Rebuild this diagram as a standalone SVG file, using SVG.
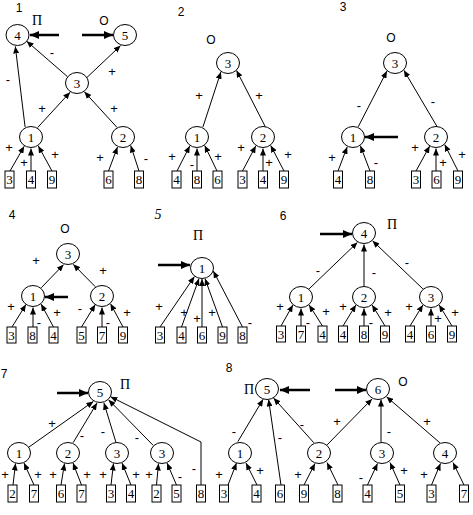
<svg xmlns="http://www.w3.org/2000/svg" width="473" height="515" viewBox="0 0 473 515">
<style>
.n ellipse{fill:#fff;stroke:#000;stroke-width:1}
.b rect{fill:#fff;stroke:#000;stroke-width:1}
.n text,.b text{font-family:"Liberation Serif",serif;font-size:13px;text-anchor:middle;fill:#000}
.e{stroke:#000;stroke-width:1;fill:none;marker-end:url(#a)}
.t{stroke:#000;stroke-width:2.5;fill:none;marker-end:url(#ta)}
.l{font-family:"Liberation Sans",sans-serif;font-size:13px;text-anchor:middle;fill:#000}
.h{font-family:"Liberation Sans",sans-serif;font-size:12px;text-anchor:middle;fill:#000}
.p{font-family:"Liberation Serif",serif;font-size:14px;text-anchor:middle;fill:#000}
</style>
<defs>
<marker id="a" markerUnits="userSpaceOnUse" markerWidth="7" markerHeight="6" refX="7" refY="3" orient="auto"><path d="M0,0 L7,3 L0,6 z" fill="#000"/></marker>
<marker id="ta" markerUnits="userSpaceOnUse" markerWidth="9" markerHeight="8" refX="9" refY="4" orient="auto"><path d="M0,0 L9,4 L0,8 z" fill="#000"/></marker>
</defs>
<rect width="473" height="515" fill="#fff"/>

<!-- ============ Panel 1 ============ -->
<g id="panel1-labels">
<text class="h" x="19" y="12">1</text>
<text class="p" x="37" y="25">П</text>
<text class="h" x="104" y="25">О</text>
</g>
<g id="connectors1">
<line class="t" x1="59" y1="35" x2="30" y2="35"/>
<line class="t" x1="82" y1="35" x2="113" y2="35"/>
<line class="e" x1="10" y1="171" x2="24.2" y2="146.3"/>
<line class="e" x1="31" y1="171" x2="31" y2="148.5"/>
<line class="e" x1="52" y1="171" x2="38.3" y2="145.9"/>
<line class="e" x1="108.5" y1="171" x2="117.5" y2="147.1"/>
<line class="e" x1="139" y1="171" x2="130.7" y2="145.5"/>
<line class="e" x1="37.6" y1="127.6" x2="70.1" y2="92.2"/>
<line class="e" x1="117.1" y1="127.5" x2="84.4" y2="91.8"/>
<line class="e" x1="25.1" y1="127.1" x2="15.3" y2="46.4"/>
<line class="e" x1="67.5" y1="76.7" x2="26.7" y2="41.2"/>
<line class="e" x1="87" y1="77.4" x2="120.6" y2="45.6"/>
<text class="l" x="9" y="152">+</text>
<text class="l" x="24" y="167">+</text>
<text class="l" x="55" y="159">+</text>
<text class="l" x="100" y="162">+</text>
<text class="l" x="146" y="163">-</text>
<text class="l" x="42" y="113">+</text>
<text class="l" x="114" y="113">+</text>
<text class="l" x="8" y="84">-</text>
<text class="l" x="52" y="57">-</text>
<text class="l" x="112" y="76">+</text>
</g>
<g id="p1-n4" class="n"><ellipse cx="17.5" cy="35" rx="11.5" ry="10.5"/><text x="17.5" y="39.5">4</text></g>
<g id="p1-n5" class="n"><ellipse cx="125" cy="35" rx="11.5" ry="10.5"/><text x="125" y="39.5">5</text></g>
<g id="p1-n3" class="n"><ellipse cx="77" cy="83" rx="11.5" ry="10.5"/><text x="77" y="87.5">3</text></g>
<g id="p1-n1" class="n"><ellipse cx="31" cy="137" rx="11.5" ry="10.5"/><text x="31" y="141.5">1</text></g>
<g id="p1-n2" class="n"><ellipse cx="123" cy="137" rx="11.5" ry="10.5"/><text x="123" y="141.5">2</text></g>
<g id="p1-b3" class="b"><rect x="5" y="171" width="9" height="17"/><text x="9.5" y="184">3</text></g>
<g id="p1-b4" class="b"><rect x="26.5" y="171" width="9" height="17"/><text x="31" y="184">4</text></g>
<g id="p1-b9" class="b"><rect x="47.5" y="171" width="9" height="17"/><text x="52" y="184">9</text></g>
<g id="p1-b6" class="b"><rect x="104" y="171" width="9" height="17"/><text x="108.5" y="184">6</text></g>
<g id="p1-b8" class="b"><rect x="134.5" y="171" width="9" height="17"/><text x="139" y="184">8</text></g>

<!-- ============ Panel 2 ============ -->
<g id="panel2-labels">
<text class="h" x="181" y="16">2</text>
<text class="h" x="211" y="44">О</text>
</g>
<g id="connectors2">
<line class="e" x1="177" y1="171" x2="189.8" y2="145.9"/>
<line class="e" x1="197" y1="171" x2="197" y2="148.5"/>
<line class="e" x1="217" y1="171" x2="204.7" y2="145.5"/>
<line class="e" x1="242.5" y1="171" x2="255.8" y2="145.9"/>
<line class="e" x1="263" y1="171" x2="263" y2="148.5"/>
<line class="e" x1="284" y1="171" x2="270.7" y2="145.5"/>
<line class="e" x1="202.9" y1="127.1" x2="220.9" y2="71.9"/>
<line class="e" x1="265.3" y1="126.7" x2="236.5" y2="70.4"/>
<text class="l" x="172" y="161">+</text>
<text class="l" x="192" y="169">-</text>
<text class="l" x="218" y="161">+</text>
<text class="l" x="241" y="152">+</text>
<text class="l" x="269" y="167">+</text>
<text class="l" x="288" y="159">+</text>
<text class="l" x="199" y="100">+</text>
<text class="l" x="259" y="100">+</text>
</g>
<g id="p2-n3" class="n"><ellipse cx="228" cy="63" rx="11.5" ry="10.5"/><text x="228" y="67.5">3</text></g>
<g id="p2-n1" class="n"><ellipse cx="197" cy="137" rx="11.5" ry="10.5"/><text x="197" y="141.5">1</text></g>
<g id="p2-n2" class="n"><ellipse cx="263" cy="137" rx="11.5" ry="10.5"/><text x="263" y="141.5">2</text></g>
<g id="p2-b4a" class="b"><rect x="172" y="171" width="9" height="17"/><text x="176.5" y="184">4</text></g>
<g id="p2-b8" class="b"><rect x="192.5" y="171" width="9" height="17"/><text x="197" y="184">8</text></g>
<g id="p2-b6" class="b"><rect x="213" y="171" width="9" height="17"/><text x="217.5" y="184">6</text></g>
<g id="p2-b3" class="b"><rect x="238" y="171" width="9" height="17"/><text x="242.5" y="184">3</text></g>
<g id="p2-b4b" class="b"><rect x="258.5" y="171" width="9" height="17"/><text x="263" y="184">4</text></g>
<g id="p2-b9" class="b"><rect x="279.5" y="171" width="9" height="17"/><text x="284" y="184">9</text></g>

<!-- ============ Panel 3 ============ -->
<g id="panel3-labels">
<text class="h" x="343" y="11">3</text>
<text class="h" x="391" y="42">О</text>
</g>
<g id="connectors3">
<line class="t" x1="398" y1="137" x2="365" y2="137"/>
<line class="e" x1="338" y1="171" x2="347.2" y2="146.9"/>
<line class="e" x1="370" y1="171" x2="360.4" y2="145.8"/>
<line class="e" x1="416" y1="171" x2="429.7" y2="146.1"/>
<line class="e" x1="436" y1="171" x2="436" y2="148.5"/>
<line class="e" x1="458" y1="171" x2="444.7" y2="144.5"/>
<line class="e" x1="358.2" y1="126.8" x2="386.9" y2="71.1"/>
<line class="e" x1="437" y1="126.5" x2="403.9" y2="70.3"/>
<text class="l" x="332" y="162">+</text>
<text class="l" x="376" y="167">-</text>
<text class="l" x="415" y="152">+</text>
<text class="l" x="443" y="167">+</text>
<text class="l" x="462" y="159">+</text>
<text class="l" x="359" y="110">-</text>
<text class="l" x="433" y="106">-</text>
</g>
<g id="p3-n3" class="n"><ellipse cx="395" cy="63" rx="11.5" ry="10.5"/><text x="395" y="67.5">3</text></g>
<g id="p3-n1" class="n"><ellipse cx="353" cy="137" rx="11.5" ry="10.5"/><text x="353" y="141.5">1</text></g>
<g id="p3-n2" class="n"><ellipse cx="436" cy="137" rx="11.5" ry="10.5"/><text x="436" y="141.5">2</text></g>
<g id="p3-b4" class="b"><rect x="333.5" y="171" width="9" height="17"/><text x="338" y="184">4</text></g>
<g id="p3-b8" class="b"><rect x="365.5" y="171" width="9" height="17"/><text x="370" y="184">8</text></g>
<g id="p3-b3" class="b"><rect x="411.5" y="171" width="9" height="17"/><text x="416" y="184">3</text></g>
<g id="p3-b6" class="b"><rect x="432" y="171" width="9" height="17"/><text x="436.5" y="184">6</text></g>
<g id="p3-b9" class="b"><rect x="453.5" y="171" width="9" height="17"/><text x="458" y="184">9</text></g>

<!-- ============ Panel 4 ============ -->
<g id="panel4-labels">
<text class="h" x="12" y="219">4</text>
<text class="h" x="65" y="233">О</text>
</g>
<g id="connectors4">
<line class="t" x1="68" y1="297" x2="45" y2="297"/>
<line class="e" x1="12" y1="327" x2="25.9" y2="304.6"/>
<line class="e" x1="33" y1="327" x2="33" y2="307.5"/>
<line class="e" x1="53.5" y1="327" x2="41.1" y2="304.1"/>
<line class="e" x1="81.5" y1="327" x2="95.3" y2="304.5"/>
<line class="e" x1="102" y1="327" x2="102" y2="307.5"/>
<line class="e" x1="123" y1="327" x2="110.5" y2="303.7"/>
<line class="e" x1="41.2" y1="287.8" x2="63.6" y2="264.6"/>
<line class="e" x1="95.3" y1="286.7" x2="73.2" y2="264.3"/>
<text class="l" x="36" y="265">+</text>
<text class="l" x="103" y="275">+</text>
<text class="l" x="11" y="311">+</text>
<text class="l" x="39" y="327">-</text>
<text class="l" x="57" y="317">+</text>
<text class="l" x="80" y="313">-</text>
<text class="l" x="108" y="327">-</text>
<text class="l" x="127" y="317">+</text>
</g>
<g id="p4-n3" class="n"><ellipse cx="68" cy="254" rx="11.5" ry="10.5"/><text x="68" y="258.5">3</text></g>
<g id="p4-n1" class="n"><ellipse cx="33" cy="296" rx="11.5" ry="10.5"/><text x="33" y="300.5">1</text></g>
<g id="p4-n2" class="n"><ellipse cx="102" cy="296" rx="11.5" ry="10.5"/><text x="102" y="300.5">2</text></g>
<g id="p4-b3" class="b"><rect x="7" y="327" width="9" height="16"/><text x="11.5" y="339.5">3</text></g>
<g id="p4-b8" class="b"><rect x="28" y="327" width="9" height="16"/><text x="32.5" y="339.5">8</text></g>
<g id="p4-b4" class="b"><rect x="49" y="327" width="9" height="16"/><text x="53.5" y="339.5">4</text></g>
<g id="p4-b5" class="b"><rect x="77" y="327" width="9" height="16"/><text x="81.5" y="339.5">5</text></g>
<g id="p4-b7" class="b"><rect x="97.5" y="327" width="9" height="16"/><text x="102" y="339.5">7</text></g>
<g id="p4-b9" class="b"><rect x="118.5" y="327" width="9" height="16"/><text x="123" y="339.5">9</text></g>

<!-- ============ Panel 5 ============ -->
<g id="panel5-labels">
<text class="p" x="158" y="219" font-style="italic">5</text>
<text class="p" x="198" y="240">П</text>
</g>
<g id="connectors5">
<line class="t" x1="158" y1="265" x2="190" y2="265"/>
<line class="e" x1="160" y1="327" x2="194.4" y2="276.6"/>
<line class="e" x1="181.5" y1="327" x2="199" y2="278.6"/>
<line class="e" x1="202" y1="327" x2="202" y2="279"/>
<line class="e" x1="222.5" y1="327" x2="205" y2="278.6"/>
<line class="e" x1="242.5" y1="327" x2="213.3" y2="271"/>
<text class="l" x="159" y="311">+</text>
<text class="l" x="184" y="317">+</text>
<text class="l" x="197" y="323">+</text>
<text class="l" x="212" y="317">+</text>
<text class="l" x="250" y="327">-</text>
</g>
<g id="p5-n1" class="n"><ellipse cx="202" cy="268" rx="11.5" ry="10.5"/><text x="202" y="272.5">1</text></g>
<g id="p5-b3" class="b"><rect x="155.5" y="327" width="9" height="16"/><text x="160" y="339.5">3</text></g>
<g id="p5-b4" class="b"><rect x="177" y="327" width="9" height="16"/><text x="181.5" y="339.5">4</text></g>
<g id="p5-b6" class="b"><rect x="197.5" y="327" width="9" height="16"/><text x="202" y="339.5">6</text></g>
<g id="p5-b9" class="b"><rect x="218" y="327" width="9" height="16"/><text x="222.5" y="339.5">9</text></g>
<g id="p5-b8" class="b"><rect x="238" y="327" width="9" height="16"/><text x="242.5" y="339.5">8</text></g>

<!-- ============ Panel 6 ============ -->
<g id="panel6-labels">
<text class="h" x="283" y="220">6</text>
<text class="p" x="392" y="229">П</text>
</g>
<g id="connectors6">
<line class="t" x1="320" y1="234" x2="352" y2="234"/>
<line class="e" x1="309.1" y1="288.9" x2="357.4" y2="242.4"/>
<line class="e" x1="364" y1="286" x2="364" y2="244.5"/>
<line class="e" x1="422.9" y1="288.9" x2="372.5" y2="240.7"/>
<line class="e" x1="281" y1="326" x2="292.9" y2="304.9"/>
<line class="e" x1="301" y1="326" x2="301" y2="308.5"/>
<line class="e" x1="322.5" y1="326" x2="309.1" y2="304.9"/>
<line class="e" x1="343" y1="326" x2="355.9" y2="304.9"/>
<line class="e" x1="364" y1="326" x2="364" y2="308.5"/>
<line class="e" x1="385" y1="326" x2="372.1" y2="304.9"/>
<line class="e" x1="410" y1="326" x2="422.9" y2="304.9"/>
<line class="e" x1="431" y1="326" x2="431" y2="308.5"/>
<line class="e" x1="452" y1="326" x2="439.1" y2="304.9"/>
<text class="l" x="318" y="275">-</text>
<text class="l" x="374" y="277">-</text>
<text class="l" x="407" y="267">-</text>
<text class="l" x="280" y="311">+</text>
<text class="l" x="308" y="327">-</text>
<text class="l" x="326" y="316">+</text>
<text class="l" x="343" y="311">+</text>
<text class="l" x="371" y="327">-</text>
<text class="l" x="388" y="317">+</text>
<text class="l" x="409" y="311">+</text>
<text class="l" x="438" y="323">+</text>
<text class="l" x="455" y="317">+</text>
</g>
<g id="p6-n4" class="n"><ellipse cx="364" cy="233" rx="11.5" ry="10.5"/><text x="364" y="237.5">4</text></g>
<g id="p6-n1" class="n"><ellipse cx="301" cy="297" rx="11.5" ry="10.5"/><text x="301" y="301.5">1</text></g>
<g id="p6-n2" class="n"><ellipse cx="364" cy="297" rx="11.5" ry="10.5"/><text x="364" y="301.5">2</text></g>
<g id="p6-n3" class="n"><ellipse cx="431" cy="297" rx="11.5" ry="10.5"/><text x="431" y="301.5">3</text></g>
<g id="p6-b3" class="b"><rect x="276.5" y="326" width="9" height="16"/><text x="281" y="338.5">3</text></g>
<g id="p6-b7" class="b"><rect x="296.5" y="326" width="9" height="16"/><text x="301" y="338.5">7</text></g>
<g id="p6-b4a" class="b"><rect x="318" y="326" width="9" height="16"/><text x="322.5" y="338.5">4</text></g>
<g id="p6-b4b" class="b"><rect x="338.5" y="326" width="9" height="16"/><text x="343" y="338.5">4</text></g>
<g id="p6-b8" class="b"><rect x="359.5" y="326" width="9" height="16"/><text x="364" y="338.5">8</text></g>
<g id="p6-b9a" class="b"><rect x="380.5" y="326" width="9" height="16"/><text x="385" y="338.5">9</text></g>
<g id="p6-b4c" class="b"><rect x="405.5" y="326" width="9" height="16"/><text x="410" y="338.5">4</text></g>
<g id="p6-b6" class="b"><rect x="426.5" y="326" width="9" height="16"/><text x="431" y="338.5">6</text></g>
<g id="p6-b9b" class="b"><rect x="447.5" y="326" width="9" height="16"/><text x="452" y="338.5">9</text></g>

<!-- ============ Panel 7 ============ -->
<g id="panel7-labels">
<text class="h" x="4" y="378">7</text>
<text class="p" x="125" y="389">П</text>
</g>
<g id="connectors7">
<line class="t" x1="57" y1="393" x2="88" y2="393"/>
<line class="e" x1="28.9" y1="447.1" x2="93.4" y2="401.4"/>
<line class="e" x1="73.1" y1="442.7" x2="97" y2="403"/>
<line class="e" x1="116" y1="442.5" x2="103.9" y2="402.8"/>
<line class="e" x1="153.3" y1="445.5" x2="108.5" y2="399.7"/>
<polyline class="e" points="201,485 201,442 110.5,396.7"/>
<line class="e" x1="13" y1="485" x2="15.5" y2="463.5"/>
<line class="e" x1="34" y1="485" x2="24" y2="463"/>
<line class="e" x1="61" y1="485" x2="64.5" y2="463.5"/>
<line class="e" x1="81.5" y1="485" x2="73" y2="463"/>
<line class="e" x1="111" y1="485" x2="113.5" y2="463.5"/>
<line class="e" x1="131" y1="485" x2="122" y2="463"/>
<line class="e" x1="156.5" y1="485" x2="158.5" y2="463.5"/>
<line class="e" x1="176.5" y1="485" x2="167" y2="463"/>
<text class="l" x="52" y="428">+</text>
<text class="l" x="82" y="440">-</text>
<text class="l" x="103" y="436">-</text>
<text class="l" x="137" y="442">-</text>
<text class="l" x="194" y="473">-</text>
<text class="l" x="5" y="479">+</text>
<text class="l" x="38" y="479">+</text>
<text class="l" x="53" y="479">+</text>
<text class="l" x="87" y="479">+</text>
<text class="l" x="103" y="479">+</text>
<text class="l" x="136" y="479">+</text>
<text class="l" x="149" y="479">+</text>
<text class="l" x="180" y="481">-</text>
</g>
<g id="p7-n5" class="n"><ellipse cx="100" cy="392" rx="11.5" ry="10.5"/><text x="100" y="396.5">5</text></g>
<g id="p7-n1" class="n"><ellipse cx="19" cy="453" rx="11.5" ry="10.5"/><text x="19" y="457.5">1</text></g>
<g id="p7-n2" class="n"><ellipse cx="68" cy="453" rx="11.5" ry="10.5"/><text x="68" y="457.5">2</text></g>
<g id="p7-n3a" class="n"><ellipse cx="117" cy="453" rx="11.5" ry="10.5"/><text x="117" y="457.5">3</text></g>
<g id="p7-n3b" class="n"><ellipse cx="162" cy="453" rx="11.5" ry="10.5"/><text x="162" y="457.5">3</text></g>
<g id="p7-b2a" class="b"><rect x="8" y="485" width="9" height="17"/><text x="12.5" y="498">2</text></g>
<g id="p7-b7a" class="b"><rect x="29.5" y="485" width="9" height="17"/><text x="34" y="498">7</text></g>
<g id="p7-b6" class="b"><rect x="56.5" y="485" width="9" height="17"/><text x="61" y="498">6</text></g>
<g id="p7-b7b" class="b"><rect x="77" y="485" width="9" height="17"/><text x="81.5" y="498">7</text></g>
<g id="p7-b3" class="b"><rect x="106.5" y="485" width="9" height="17"/><text x="111" y="498">3</text></g>
<g id="p7-b4" class="b"><rect x="126.5" y="485" width="9" height="17"/><text x="131" y="498">4</text></g>
<g id="p7-b2b" class="b"><rect x="152" y="485" width="9" height="17"/><text x="156.5" y="498">2</text></g>
<g id="p7-b5" class="b"><rect x="172" y="485" width="9" height="17"/><text x="176.5" y="498">5</text></g>
<g id="p7-b8" class="b"><rect x="196.5" y="485" width="9" height="17"/><text x="201" y="498">8</text></g>

<!-- ============ Panel 8 ============ -->
<g id="panel8-labels">
<text class="h" x="229" y="372">8</text>
<text class="p" x="249" y="394">П</text>
<text class="h" x="403" y="386">О</text>
</g>
<g id="connectors8">
<line class="t" x1="310" y1="390" x2="280" y2="390"/>
<line class="t" x1="335" y1="390" x2="366" y2="390"/>
<line class="e" x1="237.8" y1="441.7" x2="263.1" y2="399.3"/>
<line class="e" x1="281" y1="485" x2="268.6" y2="399.5"/>
<line class="e" x1="313.9" y1="442.8" x2="273.6" y2="398.1"/>
<line class="e" x1="327.1" y1="444.9" x2="372.1" y2="398.9"/>
<line class="e" x1="381" y1="442.5" x2="381" y2="399.5"/>
<line class="e" x1="439.9" y1="442.8" x2="386.5" y2="396.7"/>
<line class="e" x1="228" y1="485" x2="236.5" y2="463"/>
<line class="e" x1="257" y1="485" x2="246" y2="463"/>
<line class="e" x1="304" y1="485" x2="315" y2="463.5"/>
<line class="e" x1="338" y1="485" x2="327" y2="462.5"/>
<line class="e" x1="367.5" y1="485" x2="377.5" y2="463.5"/>
<line class="e" x1="400" y1="485" x2="390" y2="462.5"/>
<line class="e" x1="431.5" y1="485" x2="440.5" y2="463.5"/>
<line class="e" x1="464" y1="485" x2="453" y2="462.5"/>
<text class="l" x="234" y="436">-</text>
<text class="l" x="280" y="442">-</text>
<text class="l" x="302" y="429">-</text>
<text class="l" x="337" y="426">+</text>
<text class="l" x="389" y="436">-</text>
<text class="l" x="427" y="426">+</text>
<text class="l" x="219" y="479">+</text>
<text class="l" x="260" y="475">+</text>
<text class="l" x="298" y="479">+</text>
<text class="l" x="361" y="482">-</text>
<text class="l" x="404" y="475">+</text>
<text class="l" x="424" y="479">+</text>
</g>
<g id="p8-n5" class="n"><ellipse cx="267" cy="389" rx="11.5" ry="10.5"/><text x="267" y="393.5">5</text></g>
<g id="p8-n6" class="n"><ellipse cx="378" cy="389" rx="11.5" ry="10.5"/><text x="378" y="393.5">6</text></g>
<g id="p8-n1" class="n"><ellipse cx="240" cy="453" rx="11.5" ry="10.5"/><text x="240" y="457.5">1</text></g>
<g id="p8-n2" class="n"><ellipse cx="319" cy="453" rx="11.5" ry="10.5"/><text x="319" y="457.5">2</text></g>
<g id="p8-n3" class="n"><ellipse cx="382" cy="453" rx="11.5" ry="10.5"/><text x="382" y="457.5">3</text></g>
<g id="p8-n4" class="n"><ellipse cx="445" cy="453" rx="11.5" ry="10.5"/><text x="445" y="457.5">4</text></g>
<g id="p8-b3a" class="b"><rect x="219.5" y="485" width="9" height="17"/><text x="224" y="498">3</text></g>
<g id="p8-b4a" class="b"><rect x="252" y="485" width="9" height="17"/><text x="256.5" y="498">4</text></g>
<g id="p8-b6" class="b"><rect x="275.5" y="485" width="9" height="17"/><text x="280" y="498">6</text></g>
<g id="p8-b9" class="b"><rect x="299.5" y="485" width="9" height="17"/><text x="304" y="498">9</text></g>
<g id="p8-b8" class="b"><rect x="333" y="485" width="9" height="17"/><text x="337.5" y="498">8</text></g>
<g id="p8-b4b" class="b"><rect x="363" y="485" width="9" height="17"/><text x="367.5" y="498">4</text></g>
<g id="p8-b5" class="b"><rect x="395.5" y="485" width="9" height="17"/><text x="400" y="498">5</text></g>
<g id="p8-b3b" class="b"><rect x="427" y="485" width="9" height="17"/><text x="431.5" y="498">3</text></g>
<g id="p8-b7" class="b"><rect x="459.5" y="485" width="9" height="17"/><text x="464" y="498">7</text></g>
</svg>
